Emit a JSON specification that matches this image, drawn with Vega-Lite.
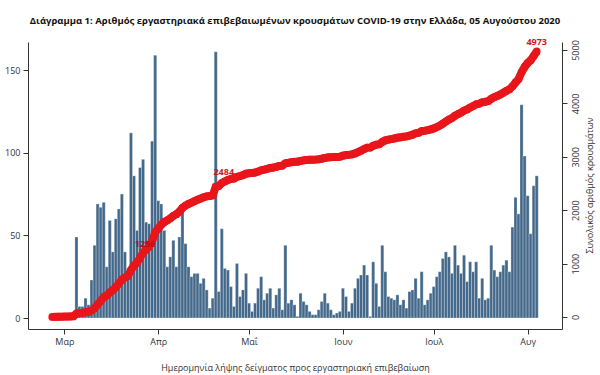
{
"$schema":"https://vega.github.io/schema/vega-lite/v6.json",
"width":534,"height":287,
"autosize":{"type":"none"},
"padding":{"left":28,"top":42,"right":38,"bottom":46},
"background":"white",
"config":{"view":{"stroke":null},"font":"Open Sans"},
"title":{"text":"Διάγραμμα 1: Αριθμός εργαστηριακά επιβεβαιωμένων κρουσμάτων COVID-19 στην Ελλάδα, 05 Αυγούστου 2020","font":"Open Sans","fontSize":9.5,"fontWeight":"bold","color":"#111","anchor":"middle","frame":"group","baseline":"alphabetic","offset":16,"dy":14},
"data":{"values":[
{"date":"2020-02-26","cases":2,"cum":2},{"date":"2020-02-27","cases":1,"cum":3},{"date":"2020-02-28","cases":2,"cum":5},{"date":"2020-02-29","cases":1,"cum":6},
{"date":"2020-03-01","cases":1,"cum":7},{"date":"2020-03-02","cases":1,"cum":8},{"date":"2020-03-03","cases":3,"cum":11},{"date":"2020-03-04","cases":3,"cum":14},{"date":"2020-03-05","cases":49,"cum":63},{"date":"2020-03-06","cases":7,"cum":70},{"date":"2020-03-07","cases":7,"cum":77},{"date":"2020-03-08","cases":12,"cum":89},{"date":"2020-03-09","cases":8,"cum":97},{"date":"2020-03-10","cases":23,"cum":120},{"date":"2020-03-11","cases":44,"cum":164},{"date":"2020-03-12","cases":69,"cum":233},{"date":"2020-03-13","cases":67,"cum":300},{"date":"2020-03-14","cases":70,"cum":370},{"date":"2020-03-15","cases":31,"cum":401},{"date":"2020-03-16","cases":59,"cum":460},{"date":"2020-03-17","cases":40,"cum":500},{"date":"2020-03-18","cases":60,"cum":560},{"date":"2020-03-19","cases":66,"cum":626},{"date":"2020-03-20","cases":75,"cum":701},{"date":"2020-03-21","cases":40,"cum":741},{"date":"2020-03-22","cases":26,"cum":767},{"date":"2020-03-23","cases":112,"cum":879},{"date":"2020-03-24","cases":86,"cum":965},{"date":"2020-03-25","cases":53,"cum":1018},{"date":"2020-03-26","cases":91,"cum":1109},{"date":"2020-03-27","cases":96,"cum":1205},{"date":"2020-03-28","cases":58,"cum":1263,"lab":"1256"},{"date":"2020-03-29","cases":57,"cum":1320},{"date":"2020-03-30","cases":107,"cum":1427},{"date":"2020-03-31","cases":159,"cum":1586},
{"date":"2020-04-01","cases":71,"cum":1657},{"date":"2020-04-02","cases":69,"cum":1726},{"date":"2020-04-03","cases":53,"cum":1779},{"date":"2020-04-04","cases":31,"cum":1810},{"date":"2020-04-05","cases":37,"cum":1847},{"date":"2020-04-06","cases":47,"cum":1894},{"date":"2020-04-07","cases":31,"cum":1925},{"date":"2020-04-08","cases":49,"cum":1974},{"date":"2020-04-09","cases":68,"cum":2042},{"date":"2020-04-10","cases":45,"cum":2087},{"date":"2020-04-11","cases":31,"cum":2118},{"date":"2020-04-12","cases":25,"cum":2143},{"date":"2020-04-13","cases":27,"cum":2170},{"date":"2020-04-14","cases":27,"cum":2197},{"date":"2020-04-15","cases":21,"cum":2218},{"date":"2020-04-16","cases":24,"cum":2242},{"date":"2020-04-17","cases":17,"cum":2259},{"date":"2020-04-18","cases":6,"cum":2265},{"date":"2020-04-19","cases":12,"cum":2277},{"date":"2020-04-20","cases":161,"cum":2438,"lab":"2484"},{"date":"2020-04-21","cases":16,"cum":2454},{"date":"2020-04-22","cases":54,"cum":2508},{"date":"2020-04-23","cases":30,"cum":2538},{"date":"2020-04-24","cases":29,"cum":2567},{"date":"2020-04-25","cases":19,"cum":2586},{"date":"2020-04-26","cases":7,"cum":2593},{"date":"2020-04-27","cases":33,"cum":2626},{"date":"2020-04-28","cases":13,"cum":2639},{"date":"2020-04-29","cases":17,"cum":2656},{"date":"2020-04-30","cases":27,"cum":2683},
{"date":"2020-05-01","cases":9,"cum":2692},{"date":"2020-05-02","cases":4,"cum":2696},{"date":"2020-05-03","cases":9,"cum":2705},{"date":"2020-05-04","cases":18,"cum":2723},{"date":"2020-05-05","cases":25,"cum":2748},{"date":"2020-05-06","cases":11,"cum":2759},{"date":"2020-05-07","cases":15,"cum":2774},{"date":"2020-05-08","cases":18,"cum":2792},{"date":"2020-05-09","cases":6,"cum":2798},{"date":"2020-05-10","cases":14,"cum":2812},{"date":"2020-05-11","cases":18,"cum":2830},{"date":"2020-05-12","cases":5,"cum":2835},{"date":"2020-05-13","cases":44,"cum":2879},{"date":"2020-05-14","cases":9,"cum":2888},{"date":"2020-05-15","cases":11,"cum":2899},{"date":"2020-05-16","cases":8,"cum":2907},{"date":"2020-05-17","cases":1,"cum":2908},{"date":"2020-05-18","cases":15,"cum":2923},{"date":"2020-05-19","cases":10,"cum":2933},{"date":"2020-05-20","cases":8,"cum":2941},{"date":"2020-05-21","cases":4,"cum":2945},{"date":"2020-05-22","cases":2,"cum":2947},{"date":"2020-05-23","cases":2,"cum":2949},{"date":"2020-05-24","cases":5,"cum":2954},{"date":"2020-05-25","cases":10,"cum":2964},{"date":"2020-05-26","cases":15,"cum":2979},{"date":"2020-05-27","cases":9,"cum":2988},{"date":"2020-05-28","cases":5,"cum":2993},{"date":"2020-05-29","cases":2,"cum":2995},{"date":"2020-05-30","cases":3,"cum":2998},{"date":"2020-05-31","cases":4,"cum":3002},
{"date":"2020-06-01","cases":18,"cum":3020},{"date":"2020-06-02","cases":13,"cum":3033},{"date":"2020-06-03","cases":4,"cum":3037},{"date":"2020-06-04","cases":9,"cum":3046},{"date":"2020-06-05","cases":18,"cum":3064},{"date":"2020-06-06","cases":24,"cum":3088},{"date":"2020-06-07","cases":26,"cum":3114},{"date":"2020-06-08","cases":32,"cum":3146},{"date":"2020-06-09","cases":26,"cum":3172},{"date":"2020-06-10","cases":1,"cum":3173},{"date":"2020-06-11","cases":34,"cum":3207},{"date":"2020-06-12","cases":21,"cum":3228},{"date":"2020-06-13","cases":7,"cum":3235},{"date":"2020-06-14","cases":44,"cum":3279},{"date":"2020-06-15","cases":28,"cum":3307},{"date":"2020-06-16","cases":13,"cum":3320},{"date":"2020-06-17","cases":12,"cum":3332},{"date":"2020-06-18","cases":11,"cum":3343},{"date":"2020-06-19","cases":14,"cum":3357},{"date":"2020-06-20","cases":8,"cum":3365},{"date":"2020-06-21","cases":11,"cum":3376},{"date":"2020-06-22","cases":6,"cum":3382},{"date":"2020-06-23","cases":16,"cum":3398},{"date":"2020-06-24","cases":17,"cum":3415},{"date":"2020-06-25","cases":24,"cum":3439},{"date":"2020-06-26","cases":12,"cum":3451},{"date":"2020-06-27","cases":28,"cum":3479},{"date":"2020-06-28","cases":8,"cum":3487},{"date":"2020-06-29","cases":11,"cum":3498},{"date":"2020-06-30","cases":15,"cum":3513},
{"date":"2020-07-01","cases":19,"cum":3532},{"date":"2020-07-02","cases":25,"cum":3557},{"date":"2020-07-03","cases":28,"cum":3585},{"date":"2020-07-04","cases":36,"cum":3621},{"date":"2020-07-05","cases":40,"cum":3661},{"date":"2020-07-06","cases":37,"cum":3698},{"date":"2020-07-07","cases":27,"cum":3725},{"date":"2020-07-08","cases":44,"cum":3769},{"date":"2020-07-09","cases":32,"cum":3801},{"date":"2020-07-10","cases":27,"cum":3828},{"date":"2020-07-11","cases":38,"cum":3866},{"date":"2020-07-12","cases":22,"cum":3888},{"date":"2020-07-13","cases":34,"cum":3922},{"date":"2020-07-14","cases":28,"cum":3950},{"date":"2020-07-15","cases":34,"cum":3984},{"date":"2020-07-16","cases":12,"cum":3996},{"date":"2020-07-17","cases":24,"cum":4020},{"date":"2020-07-18","cases":11,"cum":4031},{"date":"2020-07-19","cases":12,"cum":4043},{"date":"2020-07-20","cases":44,"cum":4087},{"date":"2020-07-21","cases":29,"cum":4116},{"date":"2020-07-22","cases":25,"cum":4141},{"date":"2020-07-23","cases":28,"cum":4169},{"date":"2020-07-24","cases":32,"cum":4201},{"date":"2020-07-25","cases":35,"cum":4236},{"date":"2020-07-26","cases":28,"cum":4264},{"date":"2020-07-27","cases":55,"cum":4319},{"date":"2020-07-28","cases":73,"cum":4392},{"date":"2020-07-29","cases":63,"cum":4455},{"date":"2020-07-30","cases":129,"cum":4584},{"date":"2020-07-31","cases":98,"cum":4682},
{"date":"2020-08-01","cases":74,"cum":4756},{"date":"2020-08-02","cases":51,"cum":4807},{"date":"2020-08-03","cases":80,"cum":4887},{"date":"2020-08-04","cases":86,"cum":4973,"lab":"4973"}
]},
"encoding":{
 "x":{"field":"date","type":"temporal","scale":{"type":"utc","domain":[1582126560000,1597078080000]},
  "axis":{"values":[1583020800000,1585699200000,1588291200000,1590969600000,1593561600000,1596240000000],
   "labelExpr":"['Ιαν','Φεβ','Μαρ','Απρ','Μαΐ','Ιουν','Ιουλ','Αυγ','Σεπ'][utcmonth(datum.value)]",
   "grid":false,"tickSize":5,"labelPadding":3,"labelFontSize":9,"labelColor":"#333","domainColor":"#333","tickColor":"#333",
   "title":"Ημερομηνία λήψης δείγματος προς εργαστηριακή επιβεβαίωση","titleFontSize":9,"titleFontWeight":"normal","titleColor":"#333","titlePadding":17}}
},
"layer":[
 {"mark":{"type":"bar","width":3.09,"color":"#43688a","stroke":"white","strokeWidth":0.3},
  "encoding":{
   "y":{"field":"cases","type":"quantitative","scale":{"domain":[-6.65,166.97],"nice":false,"zero":false},
    "axis":{"orient":"left","values":[0,50,100,150],"grid":false,"tickSize":5,"labelPadding":3,"labelFontSize":9,"labelColor":"#333","domainColor":"#333","tickColor":"#333","title":null}},
   "y2":{"datum":0}}},
 {"layer":[
   {"mark":{"type":"line","color":"#e8161b","strokeWidth":8}},
   {"mark":{"type":"point","filled":true,"color":"#e8161b","size":60,"opacity":1}},
   {"transform":[{"filter":"datum.lab=='1256'"}],"mark":{"type":"text","color":"#b51218","fontSize":9,"fontWeight":"bold","dx":-1,"dy":-6},"encoding":{"text":{"field":"lab"}}},
   {"transform":[{"filter":"datum.lab=='2484'"}],"mark":{"type":"text","color":"#d0181c","fontSize":9,"fontWeight":"bold","dx":8,"dy":-15},"encoding":{"text":{"field":"lab"}}},
   {"transform":[{"filter":"datum.lab=='4973'"}],"mark":{"type":"text","color":"#d0181c","fontSize":9,"fontWeight":"bold","dx":0,"dy":-9},"encoding":{"text":{"field":"lab"}}}
  ],
  "encoding":{
   "y":{"field":"cum","type":"quantitative","scale":{"domain":[-225,5150],"nice":false,"zero":false},
    "axis":{"orient":"right","values":[0,1000,2000,3000,4000,5000],"format":"d","grid":false,"tickSize":5,"labelPadding":4,"labelAngle":270,"labelFontSize":9,"labelColor":"#333","domainColor":"#333","tickColor":"#333",
     "title":"Συνολικός αριθμός κρουσμάτων","titleAngle":270,"titleX":27,"titleY":143,"titleAlign":"center","titleBaseline":"middle","titleFontSize":9,"titleFontWeight":"normal","titleColor":"#333"}}}}
],
"resolve":{"scale":{"y":"independent"}}
}
